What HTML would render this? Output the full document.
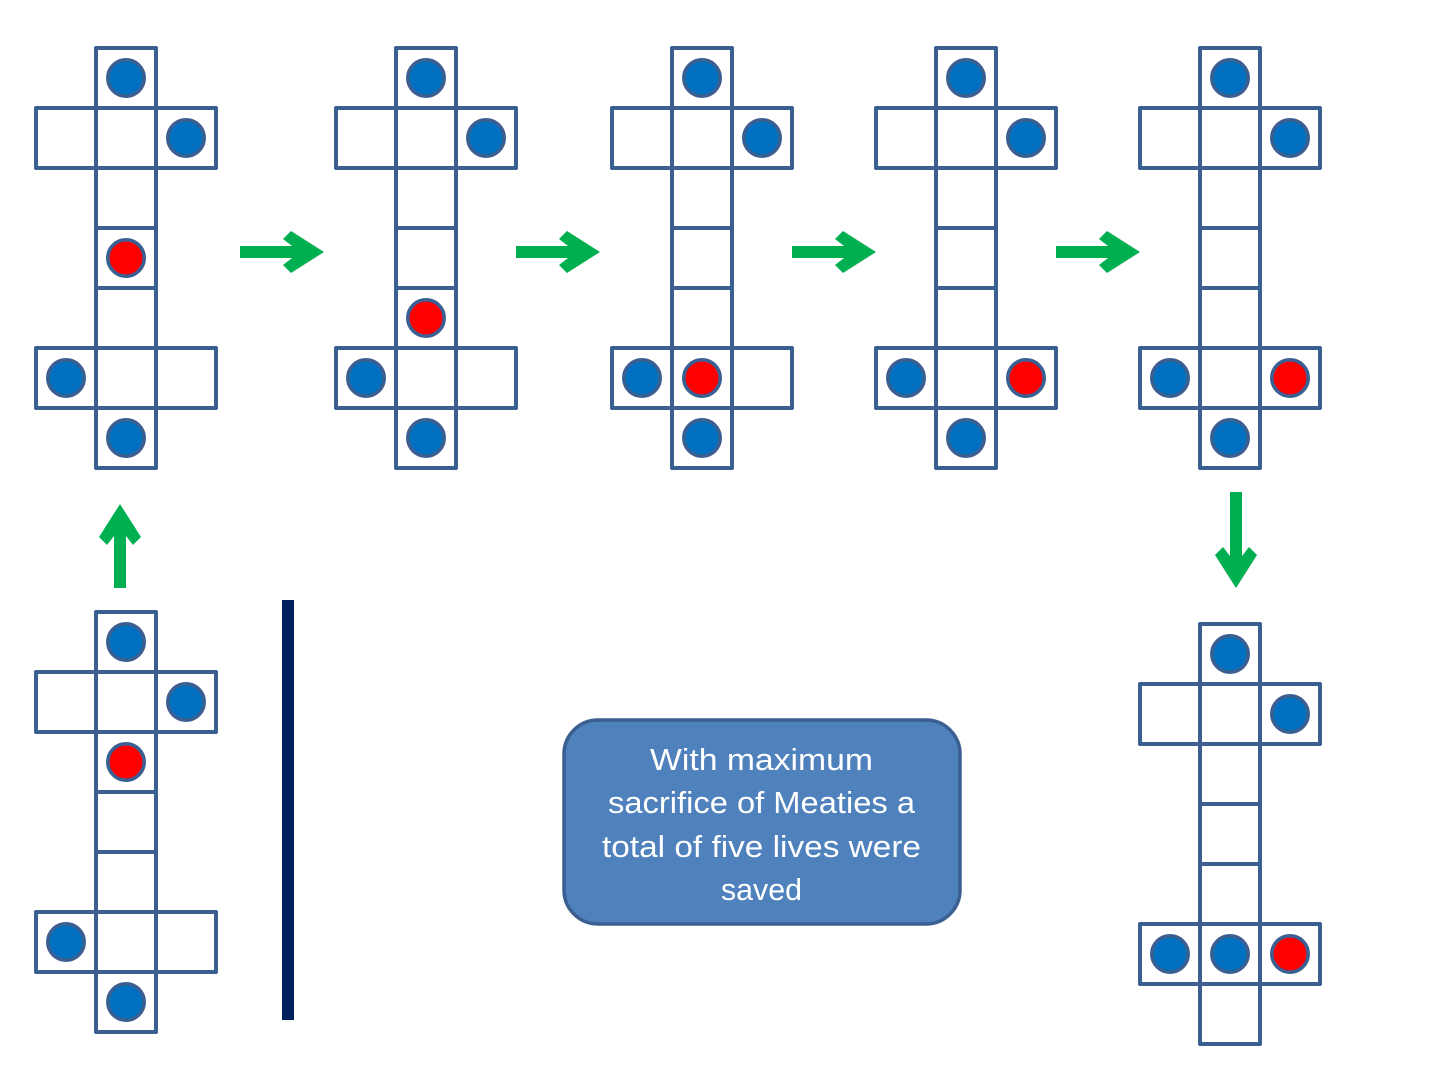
<!DOCTYPE html>
<html>
<head>
<meta charset="utf-8">
<title>Diagram</title>
<style>
html,body{margin:0;padding:0;background:#fff;}
svg{display:block;}
text{font-family:"Liberation Sans",sans-serif;font-size:31px;fill:#fff;}
</style>
</head>
<body>
<svg width="1440" height="1080" viewBox="0 0 1440 1080" xmlns="http://www.w3.org/2000/svg">
<defs>
<g id="grid" fill="none" stroke="#3b5f91" stroke-width="4" stroke-linejoin="round">
  <rect x="60" y="0" width="60" height="60"/>
  <rect x="0" y="60" width="60" height="60"/>
  <rect x="60" y="60" width="60" height="60"/>
  <rect x="120" y="60" width="60" height="60"/>
  <rect x="60" y="120" width="60" height="60"/>
  <rect x="60" y="180" width="60" height="60"/>
  <rect x="60" y="240" width="60" height="60"/>
  <rect x="0" y="300" width="60" height="60"/>
  <rect x="60" y="300" width="60" height="60"/>
  <rect x="120" y="300" width="60" height="60"/>
  <rect x="60" y="360" width="60" height="60"/>
</g>
<circle id="b" r="18.2" fill="#0070c0" stroke="#3b5f91" stroke-width="3.6"/>
<circle id="r" r="18.2" fill="#ff0000" stroke="#3b5f91" stroke-width="3.6"/>
<g id="blues">
  <use href="#b" x="90" y="30"/>
  <use href="#b" x="150" y="90"/>
  <use href="#b" x="30" y="330"/>
  <use href="#b" x="90" y="390"/>
</g>
<polygon id="ar" fill="#00b050" points="0,-6 52,-6 43,-13 51,-21 84,0 51,21 43,13 52,6 0,6"/>
<polygon id="arl" fill="#00b050" points="0,-6 64,-6 55,-13 63,-21 96,0 63,21 55,13 64,6 0,6"/>
</defs>

<!-- Top row -->
<g transform="translate(36,48)"><use href="#grid"/><use href="#blues"/><use href="#r" x="90" y="210"/></g>
<g transform="translate(336,48)"><use href="#grid"/><use href="#blues"/><use href="#r" x="90" y="270"/></g>
<g transform="translate(612,48)"><use href="#grid"/><use href="#blues"/><use href="#r" x="90" y="330"/></g>
<g transform="translate(876,48)"><use href="#grid"/><use href="#blues"/><use href="#r" x="150" y="330"/></g>
<g transform="translate(1140,48)"><use href="#grid"/><use href="#blues"/><use href="#r" x="150" y="330"/></g>

<!-- Lower left -->
<g transform="translate(36,612)"><use href="#grid"/><use href="#blues"/><use href="#r" x="90" y="150"/></g>

<!-- Lower right -->
<g transform="translate(1140,624)"><use href="#grid"/>
  <use href="#b" x="90" y="30"/>
  <use href="#b" x="150" y="90"/>
  <use href="#b" x="30" y="330"/>
  <use href="#b" x="90" y="330"/>
  <use href="#r" x="150" y="330"/>
</g>

<!-- Arrows -->
<use href="#ar" transform="translate(240,252)"/>
<use href="#ar" transform="translate(516,252)"/>
<use href="#ar" transform="translate(792,252)"/>
<use href="#ar" transform="translate(1056,252)"/>
<use href="#ar" transform="translate(120,588) rotate(-90)"/>
<use href="#arl" transform="translate(1236,492) rotate(90)"/>

<!-- Bar -->
<rect x="282" y="600" width="12" height="420" fill="#002060"/>

<!-- Callout -->
<rect x="564" y="720" width="396" height="204" rx="34" ry="34" fill="#4f81bd" stroke="#3b5f91" stroke-width="3.5"/>
<text x="650" y="770" textLength="223" lengthAdjust="spacingAndGlyphs">With maximum</text>
<text x="608" y="813" textLength="307" lengthAdjust="spacingAndGlyphs">sacrifice of Meaties a</text>
<text x="602" y="857" textLength="319" lengthAdjust="spacingAndGlyphs">total of five lives were</text>
<text x="721" y="900" textLength="81" lengthAdjust="spacingAndGlyphs">saved</text>
</svg>
</body>
</html>
